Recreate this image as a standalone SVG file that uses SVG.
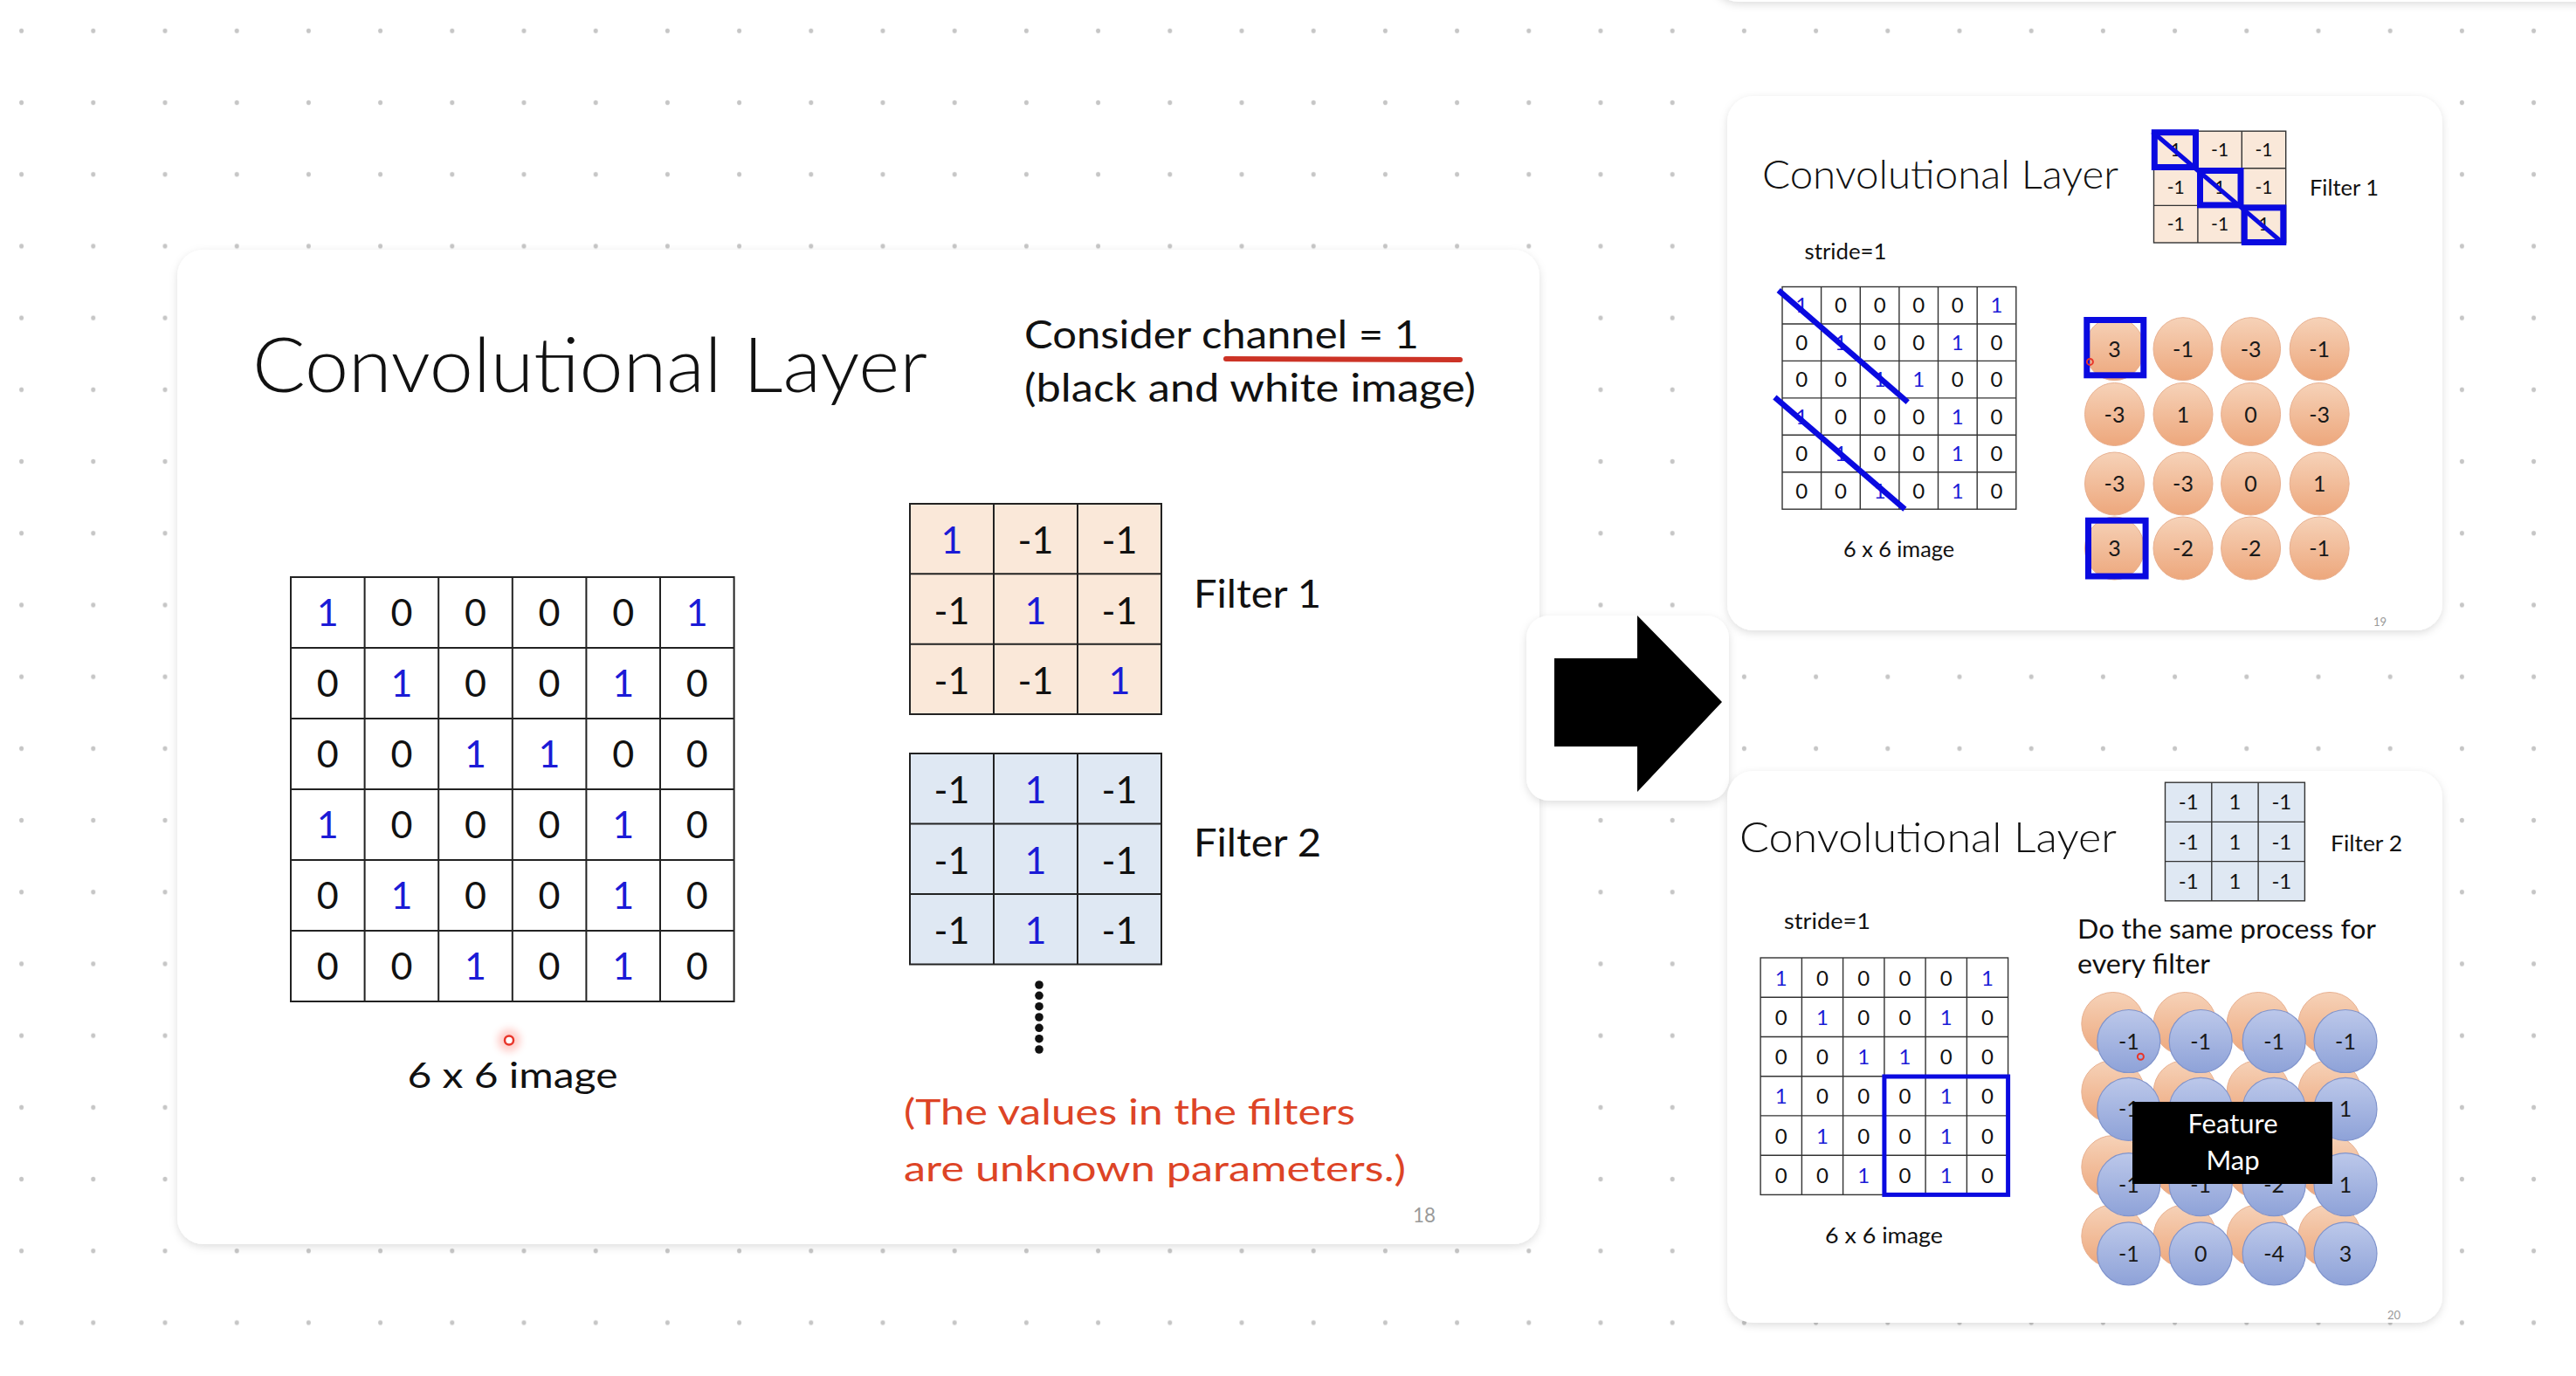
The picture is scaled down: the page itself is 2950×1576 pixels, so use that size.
<svg xmlns="http://www.w3.org/2000/svg" width="2950" height="1576" viewBox="0 0 2950 1576">
<defs>
<pattern id="dots" patternUnits="userSpaceOnUse" x="-16.5" y="-5.8" width="82.2" height="82.2">
<ellipse cx="41.1" cy="41.1" rx="2.5" ry="2.8" fill="#c6c6c6"/>
</pattern>
<filter id="sh" x="-10%" y="-10%" width="120%" height="120%">
<feDropShadow dx="0" dy="3" stdDeviation="5" flood-color="#000" flood-opacity="0.13"/>
</filter>
<filter id="glow" x="-100%" y="-100%" width="300%" height="300%">
<feGaussianBlur stdDeviation="4"/>
</filter>
<linearGradient id="og" x1="0" y1="0" x2="0" y2="1">
<stop offset="0" stop-color="#f6d2b8"/>
<stop offset="1" stop-color="#eda77c"/>
</linearGradient>
<linearGradient id="bg" x1="0" y1="0" x2="0" y2="1">
<stop offset="0" stop-color="#bcc8ea"/>
<stop offset="1" stop-color="#8ea2d8"/>
</linearGradient>
<style>
text { font-family: Lato, "Open Sans", "Liberation Sans", sans-serif; fill: #111; }
.m { text-anchor: middle; }
.b { fill: #1b1bd6; }
.title { font-weight: 300; }
.g1 { font-size: 43px; }
.g2 { font-size: 24px; }
.g3 { font-size: 21px; }
.g4 { font-size: 24px; }
.c { font-size: 25px; fill: #1a1a1a; }
.grid { fill: none; stroke: #222; stroke-width: 2; }
.sgrid { fill: none; stroke: #333; stroke-width: 1.4; }
.card { fill: #fff; filter: url(#sh); }
.bl { fill: none; stroke: #0a0ae0; }
.oc { fill: url(#og); stroke: #e8b090; stroke-width: 1; }
.bc { fill: url(#bg); stroke: #8094cc; stroke-width: 1.2; }
.pg { fill: #9a9a9a; }
</style>
</defs>

<rect x="0" y="0" width="2950" height="1576" fill="#ffffff"/>
<rect x="0" y="0" width="2950" height="1576" fill="url(#dots)"/>

<!-- faint card above top edge -->
<rect x="1962" y="-300" width="1200" height="302" rx="28" class="card"/>

<!-- Slide 18 (main card) -->
<g id="slide18">
<rect x="203" y="286" width="1560" height="1139" rx="30" class="card"/>
<text x="289" y="449" class="title" font-size="86" textLength="773" lengthAdjust="spacingAndGlyphs">Convolutional Layer</text>
<text x="1173" y="399" font-size="45" textLength="452" lengthAdjust="spacingAndGlyphs">Consider channel = 1</text>
<text x="1173" y="460" font-size="45" textLength="517" lengthAdjust="spacingAndGlyphs">(black and white image)</text>
<line x1="1404" y1="411" x2="1672" y2="412" stroke="#cc3326" stroke-width="6" stroke-linecap="round"/>

<g id="image6x6">
<rect x="333" y="661" width="507.6" height="486" class="grid"/>
<path class="grid" d="M417.6 661V1147M502.2 661V1147M586.8 661V1147M671.4 661V1147M756 661V1147M333 742H840.6M333 823H840.6M333 904H840.6M333 985H840.6M333 1066H840.6"/>
<text class="m g1 b" x="375.3" y="717">1</text><text class="m g1" x="459.9" y="717">0</text><text class="m g1" x="544.5" y="717">0</text><text class="m g1" x="629.1" y="717">0</text><text class="m g1" x="713.7" y="717">0</text><text class="m g1 b" x="798.3" y="717">1</text>
<text class="m g1" x="375.3" y="798">0</text><text class="m g1 b" x="459.9" y="798">1</text><text class="m g1" x="544.5" y="798">0</text><text class="m g1" x="629.1" y="798">0</text><text class="m g1 b" x="713.7" y="798">1</text><text class="m g1" x="798.3" y="798">0</text>
<text class="m g1" x="375.3" y="879">0</text><text class="m g1" x="459.9" y="879">0</text><text class="m g1 b" x="544.5" y="879">1</text><text class="m g1 b" x="629.1" y="879">1</text><text class="m g1" x="713.7" y="879">0</text><text class="m g1" x="798.3" y="879">0</text>
<text class="m g1 b" x="375.3" y="960">1</text><text class="m g1" x="459.9" y="960">0</text><text class="m g1" x="544.5" y="960">0</text><text class="m g1" x="629.1" y="960">0</text><text class="m g1 b" x="713.7" y="960">1</text><text class="m g1" x="798.3" y="960">0</text>
<text class="m g1" x="375.3" y="1041">0</text><text class="m g1 b" x="459.9" y="1041">1</text><text class="m g1" x="544.5" y="1041">0</text><text class="m g1" x="629.1" y="1041">0</text><text class="m g1 b" x="713.7" y="1041">1</text><text class="m g1" x="798.3" y="1041">0</text>
<text class="m g1" x="375.3" y="1122">0</text><text class="m g1" x="459.9" y="1122">0</text><text class="m g1 b" x="544.5" y="1122">1</text><text class="m g1" x="629.1" y="1122">0</text><text class="m g1 b" x="713.7" y="1122">1</text><text class="m g1" x="798.3" y="1122">0</text>
<text x="466.5" y="1246" font-size="41" textLength="241" lengthAdjust="spacingAndGlyphs">6 x 6 image</text>
</g>

<g id="filter1">
<rect x="1042" y="577" width="288" height="241" fill="#fae8d9"/>
<rect x="1042" y="577" width="288" height="241" class="grid"/>
<path class="grid" d="M1138 577V818M1234 577V818M1042 657.3H1330M1042 737.7H1330"/>
<text class="m g1 b" x="1090" y="634">1</text><text class="m g1" x="1186" y="634">-1</text><text class="m g1" x="1282" y="634">-1</text>
<text class="m g1" x="1090" y="714.5">-1</text><text class="m g1 b" x="1186" y="714.5">1</text><text class="m g1" x="1282" y="714.5">-1</text>
<text class="m g1" x="1090" y="795">-1</text><text class="m g1" x="1186" y="795">-1</text><text class="m g1 b" x="1282" y="795">1</text>
<text x="1367" y="696" font-size="45" textLength="146" lengthAdjust="spacingAndGlyphs">Filter 1</text>
</g>

<g id="filter2">
<rect x="1042" y="863" width="288" height="241.5" fill="#dfe8f3"/>
<rect x="1042" y="863" width="288" height="241.5" class="grid"/>
<path class="grid" d="M1138 863V1104.5M1234 863V1104.5M1042 943.5H1330M1042 1024H1330"/>
<text class="m g1" x="1090" y="920">-1</text><text class="m g1 b" x="1186" y="920">1</text><text class="m g1" x="1282" y="920">-1</text>
<text class="m g1" x="1090" y="1001">-1</text><text class="m g1 b" x="1186" y="1001">1</text><text class="m g1" x="1282" y="1001">-1</text>
<text class="m g1" x="1090" y="1081">-1</text><text class="m g1 b" x="1186" y="1081">1</text><text class="m g1" x="1282" y="1081">-1</text>
<text x="1367" y="980.5" font-size="45" textLength="146" lengthAdjust="spacingAndGlyphs">Filter 2</text>
</g>

<g id="more" fill="#111">
<circle cx="1190" cy="1128" r="4.8"/><circle cx="1190" cy="1140.3" r="4.8"/><circle cx="1190" cy="1152.7" r="4.8"/><circle cx="1190" cy="1165" r="4.8"/><circle cx="1190" cy="1177.3" r="4.8"/><circle cx="1190" cy="1189.7" r="4.8"/><circle cx="1190" cy="1202" r="4.8"/>
</g>

<text x="1035" y="1288" font-size="41" fill="#dd4426" style="fill:#dd4426" textLength="517" lengthAdjust="spacingAndGlyphs">(The values in the filters</text>
<text x="1035" y="1353" font-size="41" style="fill:#dd4426" textLength="575" lengthAdjust="spacingAndGlyphs">are unknown parameters.)</text>
<text x="1618" y="1400" font-size="23" class="pg" textLength="26" lengthAdjust="spacingAndGlyphs">18</text>

<g id="laser1">
<circle cx="583" cy="1191.5" r="13" fill="#ff3a2a" opacity="0.25" filter="url(#glow)"/>
<circle cx="583" cy="1191.5" r="5" fill="#fff" stroke="#e8352a" stroke-width="2.5"/>
</g>
</g>

<!-- Arrow node -->
<g id="arrow">
<rect x="1748" y="705" width="232" height="212" rx="26" class="card"/>
<polygon points="1780,754 1875,754 1875,705 1972,804 1875,907 1875,855 1780,855" fill="#000"/>
</g>

<!-- Slide 19 -->
<g id="slide19">
<rect x="1978" y="110" width="819" height="612" rx="30" class="card"/>
<text x="2018" y="215.5" class="title" font-size="46" textLength="408" lengthAdjust="spacingAndGlyphs">Convolutional Layer</text>

<rect x="2466.5" y="150.2" width="151.2" height="127.8" fill="#fae8d9"/>
<rect x="2466.5" y="150.2" width="151.2" height="127.8" class="sgrid"/>
<path class="sgrid" d="M2516.9 150.2V278M2567.3 150.2V278M2466.5 192.8H2617.7M2466.5 235.4H2617.7"/>
<text class="m g3" x="2491.7" y="179">1</text><text class="m g3" x="2542.1" y="179">-1</text><text class="m g3" x="2592.5" y="179">-1</text>
<text class="m g3" x="2491.7" y="221.5">-1</text><text class="m g3" x="2542.1" y="221.5">1</text><text class="m g3" x="2592.5" y="221.5">-1</text>
<text class="m g3" x="2491.7" y="264">-1</text><text class="m g3" x="2542.1" y="264">-1</text><text class="m g3" x="2592.5" y="264">1</text>
<g class="bl" stroke-width="7">
<rect x="2467.3" y="151.7" width="47.2" height="39.8"/>
<rect x="2519.5" y="195.5" width="46.5" height="39.4"/>
<rect x="2570.3" y="237.9" width="44.5" height="39.6"/>
</g>
<line x1="2465" y1="151" x2="2614" y2="278" stroke="#0a0ae0" stroke-width="5"/>
<text x="2645" y="223.5" font-size="25" textLength="79" lengthAdjust="spacingAndGlyphs">Filter 1</text>
<text x="2066.5" y="297" font-size="25" textLength="94" lengthAdjust="spacingAndGlyphs">stride=1</text>

<rect x="2041" y="328.5" width="267.8" height="254.7" class="sgrid"/>
<path class="sgrid" d="M2085.6 328.5V583.2M2130.3 328.5V583.2M2174.9 328.5V583.2M2219.5 328.5V583.2M2264.2 328.5V583.2M2041 371H2308.8M2041 413.4H2308.8M2041 455.9H2308.8M2041 498.3H2308.8M2041 540.8H2308.8"/>
<text class="m g2 b" x="2063.3" y="358">1</text><text class="m g2" x="2107.9" y="358">0</text><text class="m g2" x="2152.6" y="358">0</text><text class="m g2" x="2197.2" y="358">0</text><text class="m g2" x="2241.8" y="358">0</text><text class="m g2 b" x="2286.5" y="358">1</text>
<text class="m g2" x="2063.3" y="400.5">0</text><text class="m g2 b" x="2107.9" y="400.5">1</text><text class="m g2" x="2152.6" y="400.5">0</text><text class="m g2" x="2197.2" y="400.5">0</text><text class="m g2 b" x="2241.8" y="400.5">1</text><text class="m g2" x="2286.5" y="400.5">0</text>
<text class="m g2" x="2063.3" y="443">0</text><text class="m g2" x="2107.9" y="443">0</text><text class="m g2 b" x="2152.6" y="443">1</text><text class="m g2 b" x="2197.2" y="443">1</text><text class="m g2" x="2241.8" y="443">0</text><text class="m g2" x="2286.5" y="443">0</text>
<text class="m g2 b" x="2063.3" y="485.5">1</text><text class="m g2" x="2107.9" y="485.5">0</text><text class="m g2" x="2152.6" y="485.5">0</text><text class="m g2" x="2197.2" y="485.5">0</text><text class="m g2 b" x="2241.8" y="485.5">1</text><text class="m g2" x="2286.5" y="485.5">0</text>
<text class="m g2" x="2063.3" y="528">0</text><text class="m g2 b" x="2107.9" y="528">1</text><text class="m g2" x="2152.6" y="528">0</text><text class="m g2" x="2197.2" y="528">0</text><text class="m g2 b" x="2241.8" y="528">1</text><text class="m g2" x="2286.5" y="528">0</text>
<text class="m g2" x="2063.3" y="570.5">0</text><text class="m g2" x="2107.9" y="570.5">0</text><text class="m g2 b" x="2152.6" y="570.5">1</text><text class="m g2" x="2197.2" y="570.5">0</text><text class="m g2 b" x="2241.8" y="570.5">1</text><text class="m g2" x="2286.5" y="570.5">0</text>
<g stroke="#0a0ae0" stroke-width="6.5">
<line x1="2036.7" y1="332.5" x2="2184.7" y2="460.6"/>
<line x1="2032.4" y1="455" x2="2181.4" y2="583.2"/>
</g>
<text x="2111" y="638" font-size="25" textLength="127" lengthAdjust="spacingAndGlyphs">6 x 6 image</text>

<g id="fmap1">
<ellipse class="oc" cx="2421.5" cy="399.7" rx="34" ry="36"/><ellipse class="oc" cx="2500" cy="399.7" rx="34" ry="36"/><ellipse class="oc" cx="2577.6" cy="399.7" rx="34" ry="36"/><ellipse class="oc" cx="2656.2" cy="399.7" rx="34" ry="36"/>
<ellipse class="oc" cx="2421.5" cy="474.5" rx="34" ry="36"/><ellipse class="oc" cx="2500" cy="474.5" rx="34" ry="36"/><ellipse class="oc" cx="2577.6" cy="474.5" rx="34" ry="36"/><ellipse class="oc" cx="2656.2" cy="474.5" rx="34" ry="36"/>
<ellipse class="oc" cx="2421.5" cy="554" rx="34" ry="36"/><ellipse class="oc" cx="2500" cy="554" rx="34" ry="36"/><ellipse class="oc" cx="2577.6" cy="554" rx="34" ry="36"/><ellipse class="oc" cx="2656.2" cy="554" rx="34" ry="36"/>
<ellipse class="oc" cx="2421.5" cy="628" rx="34" ry="36"/><ellipse class="oc" cx="2500" cy="628" rx="34" ry="36"/><ellipse class="oc" cx="2577.6" cy="628" rx="34" ry="36"/><ellipse class="oc" cx="2656.2" cy="628" rx="34" ry="36"/>
<text class="m c" x="2421.5" y="408.7">3</text><text class="m c" x="2500" y="408.7">-1</text><text class="m c" x="2577.6" y="408.7">-3</text><text class="m c" x="2656.2" y="408.7">-1</text>
<text class="m c" x="2421.5" y="483.5">-3</text><text class="m c" x="2500" y="483.5">1</text><text class="m c" x="2577.6" y="483.5">0</text><text class="m c" x="2656.2" y="483.5">-3</text>
<text class="m c" x="2421.5" y="563">-3</text><text class="m c" x="2500" y="563">-3</text><text class="m c" x="2577.6" y="563">0</text><text class="m c" x="2656.2" y="563">1</text>
<text class="m c" x="2421.5" y="637">3</text><text class="m c" x="2500" y="637">-2</text><text class="m c" x="2577.6" y="637">-2</text><text class="m c" x="2656.2" y="637">-1</text>
<g class="bl" stroke-width="7">
<rect x="2389.8" y="366.5" width="65" height="63.3"/>
<rect x="2391.5" y="596.2" width="65.6" height="63.8"/>
</g>
</g>
<circle cx="2393.4" cy="414.4" r="3.5" fill="none" stroke="#e8352a" stroke-width="2"/>
<text x="2718" y="717" font-size="13" class="pg">19</text>
</g>

<!-- Slide 20 -->
<g id="slide20">
<rect x="1978" y="883" width="819" height="632" rx="30" class="card"/>
<text x="1992" y="976" class="title" font-size="48" textLength="432" lengthAdjust="spacingAndGlyphs">Convolutional Layer</text>

<rect x="2479.5" y="896.2" width="159.9" height="135.6" fill="#dfe8f3"/>
<rect x="2479.5" y="896.2" width="159.9" height="135.6" class="sgrid"/>
<path class="sgrid" d="M2532.8 896.2V1031.8M2586.1 896.2V1031.8M2479.5 941.4H2639.4M2479.5 986.6H2639.4"/>
<text class="m g4" x="2506.2" y="927.3">-1</text><text class="m g4" x="2559.5" y="927.3">1</text><text class="m g4" x="2612.8" y="927.3">-1</text>
<text class="m g4" x="2506.2" y="972.5">-1</text><text class="m g4" x="2559.5" y="972.5">1</text><text class="m g4" x="2612.8" y="972.5">-1</text>
<text class="m g4" x="2506.2" y="1017.7">-1</text><text class="m g4" x="2559.5" y="1017.7">1</text><text class="m g4" x="2612.8" y="1017.7">-1</text>
<text x="2669" y="974.5" font-size="25" textLength="82" lengthAdjust="spacingAndGlyphs">Filter 2</text>
<text x="2043" y="1064" font-size="25" textLength="99" lengthAdjust="spacingAndGlyphs">stride=1</text>
<text x="2379" y="1074.6" font-size="30" textLength="342" lengthAdjust="spacingAndGlyphs">Do the same process for</text>
<text x="2379" y="1114.6" font-size="30" textLength="152" lengthAdjust="spacingAndGlyphs">every filter</text>

<rect x="2016.1" y="1097" width="283.5" height="271.4" class="sgrid"/>
<path class="sgrid" d="M2063.4 1097V1368.4M2110.6 1097V1368.4M2157.9 1097V1368.4M2205.1 1097V1368.4M2252.4 1097V1368.4M2016.1 1142.2H2299.6M2016.1 1187.5H2299.6M2016.1 1232.7H2299.6M2016.1 1277.9H2299.6M2016.1 1323.2H2299.6"/>
<text class="m g2 b" x="2039.7" y="1128.5">1</text><text class="m g2" x="2087" y="1128.5">0</text><text class="m g2" x="2134.2" y="1128.5">0</text><text class="m g2" x="2181.5" y="1128.5">0</text><text class="m g2" x="2228.7" y="1128.5">0</text><text class="m g2 b" x="2276" y="1128.5">1</text>
<text class="m g2" x="2039.7" y="1173.8">0</text><text class="m g2 b" x="2087" y="1173.8">1</text><text class="m g2" x="2134.2" y="1173.8">0</text><text class="m g2" x="2181.5" y="1173.8">0</text><text class="m g2 b" x="2228.7" y="1173.8">1</text><text class="m g2" x="2276" y="1173.8">0</text>
<text class="m g2" x="2039.7" y="1219">0</text><text class="m g2" x="2087" y="1219">0</text><text class="m g2 b" x="2134.2" y="1219">1</text><text class="m g2 b" x="2181.5" y="1219">1</text><text class="m g2" x="2228.7" y="1219">0</text><text class="m g2" x="2276" y="1219">0</text>
<text class="m g2 b" x="2039.7" y="1264.3">1</text><text class="m g2" x="2087" y="1264.3">0</text><text class="m g2" x="2134.2" y="1264.3">0</text><text class="m g2" x="2181.5" y="1264.3">0</text><text class="m g2 b" x="2228.7" y="1264.3">1</text><text class="m g2" x="2276" y="1264.3">0</text>
<text class="m g2" x="2039.7" y="1309.5">0</text><text class="m g2 b" x="2087" y="1309.5">1</text><text class="m g2" x="2134.2" y="1309.5">0</text><text class="m g2" x="2181.5" y="1309.5">0</text><text class="m g2 b" x="2228.7" y="1309.5">1</text><text class="m g2" x="2276" y="1309.5">0</text>
<text class="m g2" x="2039.7" y="1354.8">0</text><text class="m g2" x="2087" y="1354.8">0</text><text class="m g2 b" x="2134.2" y="1354.8">1</text><text class="m g2" x="2181.5" y="1354.8">0</text><text class="m g2 b" x="2228.7" y="1354.8">1</text><text class="m g2" x="2276" y="1354.8">0</text>
<rect x="2157.9" y="1233" width="141.7" height="135.4" class="bl" stroke-width="5"/>
<text x="2090" y="1424" font-size="25" textLength="135" lengthAdjust="spacingAndGlyphs">6 x 6 image</text>

<g id="fmap2">
<circle class="oc" cx="2419.8" cy="1172.5" r="36"/><circle class="oc" cx="2502.2" cy="1172.5" r="36"/><circle class="oc" cx="2586.2" cy="1172.5" r="36"/><circle class="oc" cx="2668" cy="1172.5" r="36"/>
<circle class="oc" cx="2419.8" cy="1250.4" r="36"/><circle class="oc" cx="2502.2" cy="1250.4" r="36"/><circle class="oc" cx="2586.2" cy="1250.4" r="36"/><circle class="oc" cx="2668" cy="1250.4" r="36"/>
<circle class="oc" cx="2419.8" cy="1336.6" r="36"/><circle class="oc" cx="2502.2" cy="1336.6" r="36"/><circle class="oc" cx="2586.2" cy="1336.6" r="36"/><circle class="oc" cx="2668" cy="1336.6" r="36"/>
<circle class="oc" cx="2419.8" cy="1415.8" r="36"/><circle class="oc" cx="2502.2" cy="1415.8" r="36"/><circle class="oc" cx="2586.2" cy="1415.8" r="36"/><circle class="oc" cx="2668" cy="1415.8" r="36"/>
<circle class="bc" cx="2437.8" cy="1192.5" r="36"/><circle class="bc" cx="2520.2" cy="1192.5" r="36"/><circle class="bc" cx="2604.2" cy="1192.5" r="36"/><circle class="bc" cx="2686" cy="1192.5" r="36"/>
<circle class="bc" cx="2437.8" cy="1270.4" r="36"/><circle class="bc" cx="2520.2" cy="1270.4" r="36"/><circle class="bc" cx="2604.2" cy="1270.4" r="36"/><circle class="bc" cx="2686" cy="1270.4" r="36"/>
<circle class="bc" cx="2437.8" cy="1356.6" r="36"/><circle class="bc" cx="2520.2" cy="1356.6" r="36"/><circle class="bc" cx="2604.2" cy="1356.6" r="36"/><circle class="bc" cx="2686" cy="1356.6" r="36"/>
<circle class="bc" cx="2437.8" cy="1435.8" r="36"/><circle class="bc" cx="2520.2" cy="1435.8" r="36"/><circle class="bc" cx="2604.2" cy="1435.8" r="36"/><circle class="bc" cx="2686" cy="1435.8" r="36"/>
<text class="m c" x="2437.8" y="1201.5">-1</text><text class="m c" x="2520.2" y="1201.5">-1</text><text class="m c" x="2604.2" y="1201.5">-1</text><text class="m c" x="2686" y="1201.5">-1</text>
<text class="m c" x="2437.8" y="1279.4">-1</text><text class="m c" x="2686" y="1279.4">1</text>
<text class="m c" x="2437.8" y="1365.6">-1</text><text class="m c" x="2520.2" y="1365.6">-1</text><text class="m c" x="2604.2" y="1365.6">-2</text><text class="m c" x="2686" y="1365.6">1</text>
<text class="m c" x="2437.8" y="1444.8">-1</text><text class="m c" x="2520.2" y="1444.8">0</text><text class="m c" x="2604.2" y="1444.8">-4</text><text class="m c" x="2686" y="1444.8">3</text>
</g>
<g id="featuremap">
<rect x="2442" y="1262" width="229" height="94" fill="#000"/>
<text class="m" x="2557" y="1297.7" font-size="31" style="fill:#fff">Feature</text>
<text class="m" x="2557" y="1339.8" font-size="31" style="fill:#fff">Map</text>
</g>
<circle cx="2451.4" cy="1210.2" r="3.5" fill="none" stroke="#e8352a" stroke-width="2"/>
<text x="2734" y="1511" font-size="13" class="pg">20</text>
</g>
</svg>
